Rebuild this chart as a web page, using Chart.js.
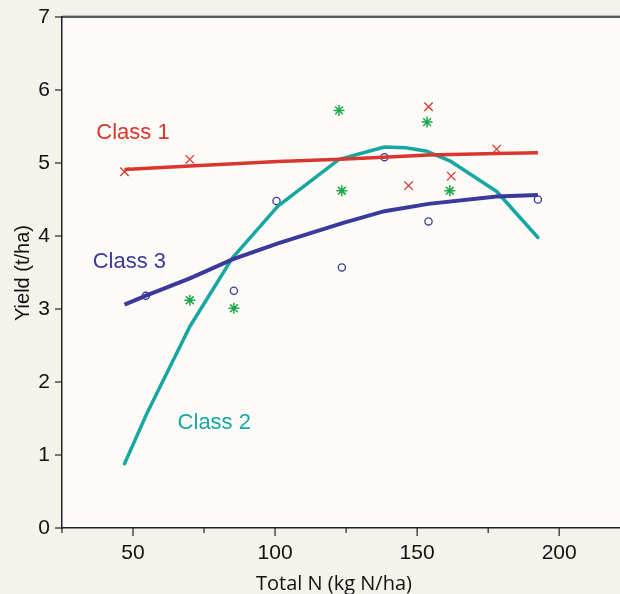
<!DOCTYPE html>
<html>
<head>
<meta charset="utf-8">
<script src="https://cdn.jsdelivr.net/npm/chart.js@4.4.0/dist/chart.umd.min.js"></script>
<style>
  html, body { margin: 0; padding: 0; background: #f5f2eb; }
  #wrap { width: 620px; height: 594px; }
</style>
</head>
<body>
<div id="wrap"><canvas id="myChart" width="620" height="594"></canvas></div>
<script>
// fitted curves per class
var class1CurveN = [47, 70, 101, 123, 138, 154, 178, 192.5];
var class1CurveY = [4.91, 4.96, 5.02, 5.05, 5.08, 5.11, 5.13, 5.14];
var class2CurveN = [47, 55, 70, 85, 101, 122.5, 138.5, 146, 153.5, 161.5, 178, 192.5];
var class2CurveY = [0.88, 1.58, 2.76, 3.70, 4.41, 5.05, 5.22, 5.21, 5.16, 5.03, 4.61, 3.98];
var class3CurveN = [47, 55, 70, 85, 101, 124, 138.5, 154, 178, 192.5];
var class3CurveY = [3.06, 3.19, 3.42, 3.68, 3.90, 4.18, 4.34, 4.44, 4.54, 4.56];

// observed points
var class1ObsN = [47, 70, 147, 154, 162, 178];
var class1ObsY = [4.88, 5.05, 4.69, 5.77, 4.82, 5.19];
var class2ObsN = [70, 85.5, 122.5, 123.5, 153.5, 161.5];
var class2ObsY = [3.12, 3.01, 5.72, 4.62, 5.56, 4.62];
var class3ObsN = [54.5, 85.5, 100.5, 123.5, 138.5, 154, 192.5];
var class3ObsY = [3.18, 3.25, 4.48, 3.57, 5.08, 4.20, 4.50];

var xTicks = [50, 100, 150, 200];
var yTicks = [0, 1, 2, 3, 4, 5, 6, 7];

// class labels: text, anchor x, anchor y
var classLabels = [
    { text: "Class 1", n: 50, y: 5.41, color: '#d8362f' },
    { text: "Class 3", n: 48.7, y: 3.64, color: '#3c399c' },
    { text: "Class 2", n: 78.6, y: 1.44, color: '#16a7a2' }
];

var RED = '#d8362f', TEAL = '#16a7a2', NAVY = '#3c399c', GREEN = '#1ea84a';

function pts(xs, ys) {
    return xs.map(function (x, i) { return { x: x, y: ys[i] }; });
}

var decor = {
    id: 'decor',
    beforeDraw: function (chart) {
        var c = chart.ctx, a = chart.chartArea;
        c.save();
        c.fillStyle = '#f5f2eb';
        c.fillRect(0, 0, chart.width, chart.height);
        c.fillStyle = '#fcfbf8';
        c.fillRect(a.left, a.top, chart.width - a.left, a.bottom - a.top);
        c.restore();
    },
    afterDraw: function (chart) {
        var c = chart.ctx, a = chart.chartArea;
        var xs = chart.scales.x, ys = chart.scales.y;
        c.save();
        // top frame line
        c.strokeStyle = '#bbb';
        c.lineWidth = 1;
        c.beginPath(); c.moveTo(a.left, a.top - 1.5); c.lineTo(chart.width, a.top - 1.5); c.stroke();
        c.strokeStyle = '#222';
        c.lineWidth = 1.5;
        c.beginPath(); c.moveTo(a.left, a.top); c.lineTo(chart.width, a.top); c.stroke();
        // tick marks
        c.lineWidth = 1.2;
        c.strokeStyle = '#222';
        for (var v = 25; v <= 221; v += 25) {
            var px = xs.getPixelForValue(v);
            var len = (v % 50 === 0) ? 8 : 5;
            c.beginPath(); c.moveTo(px, a.bottom); c.lineTo(px, a.bottom + len); c.stroke();
        }
        yTicks.forEach(function (t) {
            var py = ys.getPixelForValue(t);
            c.beginPath(); c.moveTo(a.left - 7, py); c.lineTo(a.left, py); c.stroke();
        });
        // axis titles
        c.fillStyle = '#111';
        c.font = '20px "Open Sans"';
        c.textAlign = 'center';
        c.textBaseline = 'alphabetic';
        c.fillText('Total N (kg N/ha)', 334, 590);
        c.translate(23, 273);
        c.rotate(-Math.PI / 2);
        c.font = '20px "Liberation Sans", Arial';
        c.textBaseline = 'middle';
        c.fillText('Yield (t/ha)', 0, 0);
        c.restore();
        // class labels
        c.save();
        c.font = '22px "Liberation Sans", Arial';
        c.textAlign = 'center';
        c.textBaseline = 'middle';
        classLabels.forEach(function (l) {
            c.fillStyle = l.color;
            c.fillText(l.text, xs.getPixelForValue(l.n), ys.getPixelForValue(l.y));
        });
        c.restore();
    }
};

var ctx = document.getElementById('myChart').getContext('2d');
var chart = new Chart(ctx, {
    type: 'scatter',
    data: {
        datasets: [{
            data: pts(class1CurveN, class1CurveY),
            showLine: true, borderColor: RED, borderWidth: 3.5, pointRadius: 0, tension: 0
        }, {
            data: pts(class3CurveN, class3CurveY),
            showLine: true, borderColor: NAVY, borderWidth: 4, pointRadius: 0, tension: 0
        }, {
            data: pts(class2CurveN, class2CurveY),
            showLine: true, borderColor: TEAL, borderWidth: 3.5, pointRadius: 0, tension: 0,
            borderJoinStyle: 'round', borderCapStyle: 'round'
        }, {
            data: pts(class1ObsN, class1ObsY),
            pointStyle: 'crossRot', pointRadius: 6, borderColor: RED, borderWidth: 1.3
        }, {
            data: pts(class2ObsN, class2ObsY),
            pointStyle: 'star', pointRadius: 5.5, borderColor: GREEN, borderWidth: 1.5
        }, {
            data: pts(class3ObsN, class3ObsY),
            pointStyle: 'circle', pointRadius: 3.6, borderColor: NAVY, backgroundColor: 'rgba(0,0,0,0)', borderWidth: 1.3
        }]
    },
    options: {
        responsive: false,
        animation: false,
        layout: { autoPadding: false, padding: { top: 17, right: 0, left: 0, bottom: 0 } },
        plugins: { legend: { display: false }, tooltip: { enabled: false } },
        scales: {
            x: {
                type: 'linear', min: 25, max: 221.4,
                afterFit: function (s) {
                    s.height = 66;
                    s.paddingLeft = 0; s.paddingRight = 0;
                },
                grid: { drawOnChartArea: false, drawTicks: false },
                border: { display: true, color: '#222', width: 1.5 },
                ticks: {
                    stepSize: 25, includeBounds: false, padding: 13, color: '#111',
                    font: { family: '"Liberation Sans", Arial', size: 21 },
                    callback: function (v) { return xTicks.indexOf(v) >= 0 ? String(v) : ''; }
                }
            },
            y: {
                min: 0, max: 7,
                afterFit: function (s) {
                    s.width = 62;
                    s.paddingTop = 0; s.paddingBottom = 0;
                },
                grid: { drawOnChartArea: false, drawTicks: false },
                border: { display: true, color: '#222', width: 1.5 },
                ticks: {
                    stepSize: 1, padding: 12, color: '#111',
                    font: { family: '"Liberation Sans", Arial', size: 21 }
                }
            }
        }
    },
    plugins: [decor]
});
</script>
</body>
</html>
